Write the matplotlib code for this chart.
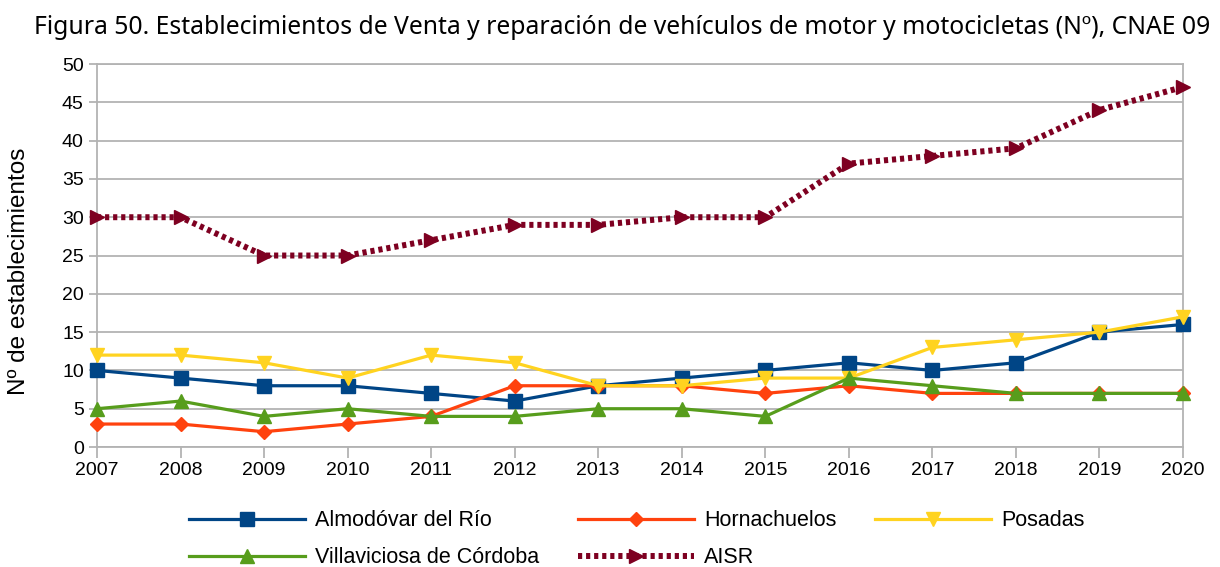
import matplotlib.pyplot as plt

# Establecimientos de venta y reparación de vehículos (CNAE 09)
anios = [2007, 2008, 2009, 2010, 2011, 2012, 2013, 2014, 2015, 2016, 2017, 2018, 2019, 2020]
almodovar = [10, 9, 8, 8, 7, 6, 8, 9, 10, 11, 10, 11, 15, 16]
hornachuelos = [3, 3, 2, 3, 4, 8, 8, 8, 7, 8, 7, 7, 7, 7]
posadas = [12, 12, 11, 9, 12, 11, 8, 8, 9, 9, 13, 14, 15, 17]
villaviciosa = [5, 6, 4, 5, 4, 4, 5, 5, 4, 9, 8, 7, 7, 7]
aisr = [30, 30, 25, 25, 27, 29, 29, 30, 30, 37, 38, 39, 44, 47]
y_ticks = list(range(0, 51, 5))

GRIS = "#b3b3b3"

plt.rcParams["font.family"] = ["Liberation Sans", "DejaVu Sans"]

fig = plt.figure(figsize=(12.2, 5.67), dpi=100)
ax = fig.add_axes([0.0795, 0.2116, 0.8902, 0.6755])

series = [
    ("Almodóvar del Río", almodovar, "#004586", "s", 10),
    ("Hornachuelos", hornachuelos, "#ff420e", "D", 7.5),
    ("Posadas", posadas, "#ffd320", "v", 10),
    ("Villaviciosa de Córdoba", villaviciosa, "#579d1c", "^", 10),
]
lineas = []
for nombre, valores, color, marca, tam in series:
    l, = ax.plot(anios, valores, color=color, lw=2.3, marker=marca, markersize=tam,
                 label=nombre, clip_on=False, zorder=3)
    lineas.append(l)

l, = ax.plot(anios, aisr, color="#7e0021", lw=4.3, linestyle=(0, (0.7, 0.65)),
             dash_capstyle="butt", marker=">", markersize=9.5, label="AISR",
             clip_on=False, zorder=4)
lineas.append(l)

ax.set_xlim(2007, 2020)
ax.set_ylim(0, 50)
ax.set_xticks(anios)
ax.set_yticks(y_ticks)
ax.grid(axis="y", color=GRIS, lw=1.3)
ax.set_axisbelow(True)
for lado in ax.spines.values():
    lado.set_color(GRIS)
    lado.set_linewidth(1.3)
ax.tick_params(axis="both", colors=GRIS, labelcolor="black", labelsize=14,
               length=6, width=1.3)
ax.tick_params(axis="x", length=8, pad=3)

ax.set_ylabel("Nº de establecimientos", fontsize=17.5, labelpad=8)
ax.yaxis.set_label_coords(-0.062, 0.46)
fig.text(0.51, 0.951, "Figura 50. Establecimientos de Venta y reparación de vehículos de motor y motocicletas (Nº), CNAE 09",
         ha="center", va="center", fontsize=17.8, family="Noto Sans")

# la leyenda se rellena por columnas: se ordena para leerla por filas
orden = [0, 3, 1, 4, 2]
fig.legend([lineas[i] for i in orden], [lineas[i].get_label() for i in orden],
           loc="center", bbox_to_anchor=(0.522, 0.049), ncol=3, frameon=False,
           fontsize=15.5, handlelength=5.4, handletextpad=0.45, columnspacing=1.8,
           labelspacing=0.75)

plt.savefig("out.png", dpi=100)
